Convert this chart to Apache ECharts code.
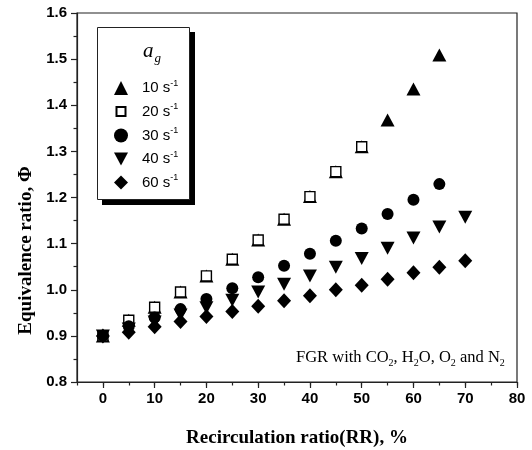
<!DOCTYPE html>
<html>
<head>
<meta charset="utf-8">
<script src="https://cdn.jsdelivr.net/npm/echarts@6/dist/echarts.min.js"></script>
<style>html,body{margin:0;padding:0;background:#fff;}#c{width:532px;height:450px;}</style>
</head>
<body>
<div id="c"></div>
<script>
// Data
var rr = [0, 5, 10, 15, 20, 25, 30, 35, 40, 45, 50, 55, 60, 65, 70];
var ag10 = [0.900, 0.934, 0.962, 0.995, 1.030, 1.066, 1.108, 1.153, 1.202, 1.256, 1.310, 1.368, 1.435, 1.509];
var ag20 = [0.900, 0.934, 0.962, 0.995, 1.030, 1.066, 1.108, 1.153, 1.202, 1.256, 1.310];
var ag30 = [0.900, 0.921, 0.940, 0.958, 0.980, 1.003, 1.027, 1.052, 1.078, 1.106, 1.133, 1.164, 1.195, 1.229];
var ag40 = [0.900, 0.915, 0.930, 0.945, 0.961, 0.977, 0.995, 1.012, 1.030, 1.049, 1.068, 1.090, 1.112, 1.136, 1.157];
var ag60 = [0.900, 0.908, 0.920, 0.931, 0.942, 0.953, 0.964, 0.976, 0.987, 1.000, 1.010, 1.023, 1.037, 1.049, 1.063];
var seriesNames = ['10 s{sup|-1}', '20 s{sup|-1}', '30 s{sup|-1}', '40 s{sup|-1}', '60 s{sup|-1}'];
var xLabelValues = [0, 10, 20, 30, 40, 50, 60, 70, 80];

function pairs(ys) { return ys.map(function (y, i) { return [rr[i], y]; }); }

var downTri = 'path://M0,0 L12,0 L6,11 Z';
var smallSquare = 'path://M0,0 M14,14 M2.5,2.5 L11.5,2.5 L11.5,11.5 L2.5,11.5 Z';
var chart = echarts.init(document.getElementById('c'), null, { renderer: 'canvas' });
var serif = '"Liberation Serif", "Times New Roman", serif';
var sans = '"Liberation Sans", Arial, sans-serif';
var blackItem = { color: '#000', opacity: 1 };

var option = {
  animation: false,
  backgroundColor: '#fff',
  grid: { left: 77, right: 15, top: 13, bottom: 68, containLabel: false, outerBoundsMode: 'none', show: true, borderColor: '#222', borderWidth: 1.2, backgroundColor: 'transparent' },
  xAxis: [{
    type: 'value', min: -5, max: 80, interval: 5,
    axisLine: { show: true, onZero: false, lineStyle: { color: '#222', width: 1.2 } },
    axisTick: { show: true, inside: false, length: 6, customValues: xLabelValues, lineStyle: { color: '#222', width: 1.2 } },
    axisLabel: { customValues: xLabelValues, margin: 9, color: '#000', fontFamily: sans, fontWeight: 'bold', fontSize: 15 },
    splitLine: { show: false },
    name: 'Recirculation ratio(RR), %', nameLocation: 'middle', nameGap: 47,
    nameTextStyle: { fontFamily: serif, fontWeight: 'bold', fontSize: 19, color: '#000' }
  }, {
    type: 'value', min: -5, max: 80, interval: 5, position: 'bottom',
    axisLine: { show: false },
    axisTick: { show: true, inside: false, length: 3.5, lineStyle: { color: '#222', width: 1.2 } },
    axisLabel: { show: false }, splitLine: { show: false }
  }],
  yAxis: {
    type: 'value', min: 0.8, max: 1.6, interval: 0.1,
    axisLine: { show: true, onZero: false, lineStyle: { color: '#222', width: 1.2 } },
    axisTick: { show: true, inside: false, length: 6, lineStyle: { color: '#222', width: 1.2 } },
    minorTick: { show: true, splitNumber: 2, length: 3.5, lineStyle: { color: '#222', width: 1.2 } },
    axisLabel: { margin: 10, color: '#000', fontFamily: sans, fontWeight: 'bold', fontSize: 15, formatter: function (v) { return v.toFixed(1); } },
    splitLine: { show: false },
    name: 'Equivalence ratio, \u03A6', nameLocation: 'middle', nameGap: 37,
    nameTextStyle: { fontFamily: serif, fontWeight: 'bold', fontSize: 19, color: '#000', padding: [0, 106, 0, 0] }
  },
  legend: {
    orient: 'vertical', left: 113, top: 79,
    padding: 0,
    itemWidth: 14, itemHeight: 14, itemGap: 7,
    selectedMode: false,
    textStyle: {
      fontFamily: sans, fontSize: 15, color: '#000', padding: [0, 0, 0, 9],
      rich: { sup: { fontSize: 9, fontFamily: sans, color: '#000', verticalAlign: 'top', padding: [0, 0, 9, 0] } }
    },
    data: [
      { name: seriesNames[0] },
      { name: seriesNames[1], icon: smallSquare },
      { name: seriesNames[2] },
      { name: seriesNames[3] },
      { name: seriesNames[4] }
    ]
  },
  graphic: [{
    type: 'rect', z: 1, shape: { x: 102, y: 32, width: 93, height: 173 }, style: { fill: '#000' }
  }, {
    type: 'rect', z: 2, shape: { x: 97.5, y: 27.5, width: 92, height: 172 }, style: { fill: '#fff', stroke: '#222', lineWidth: 1 }
  }, {
    type: 'text', left: 143, top: 41, z: 100,
    style: {
      text: '{a|a}{g|g}',
      rich: {
        a: { fontFamily: serif, fontStyle: 'italic', fontSize: 21, fill: '#000' },
        g: { fontFamily: serif, fontStyle: 'italic', fontSize: 13, fill: '#000', padding: [14, 0, 0, 1] }
      }
    }
  }, {
    type: 'text', left: 296, top: 349, z: 100,
    style: {
      text: 'FGR with CO{s|2}, H{s|2}O, O{s|2} and N{s|2}',
      font: '16.5px ' + serif, fill: '#000',
      rich: { s: { fontFamily: serif, fontSize: 10, fill: '#000', padding: [11, 0, 0, 0] } }
    }
  }],
  series: [
    { name: seriesNames[0], type: 'scatter', data: pairs(ag10), symbol: 'triangle', symbolSize: [14, 13], itemStyle: blackItem, z: 2 },
    { name: seriesNames[1], type: 'scatter', data: pairs(ag20), symbol: 'rect', symbolSize: 10, itemStyle: { color: '#fff', borderColor: '#000', borderWidth: 1.4, opacity: 1 }, z: 3 },
    { name: seriesNames[2], type: 'scatter', data: pairs(ag30), symbol: 'circle', symbolSize: 12, itemStyle: blackItem, z: 4 },
    { name: seriesNames[3], type: 'scatter', data: pairs(ag40), symbol: downTri, symbolSize: [14, 13], itemStyle: blackItem, z: 5 },
    { name: seriesNames[4], type: 'scatter', data: pairs(ag60), symbol: 'diamond', symbolSize: [14, 15], itemStyle: blackItem, z: 6 }
  ]
};
chart.setOption(option);
</script>
</body>
</html>
